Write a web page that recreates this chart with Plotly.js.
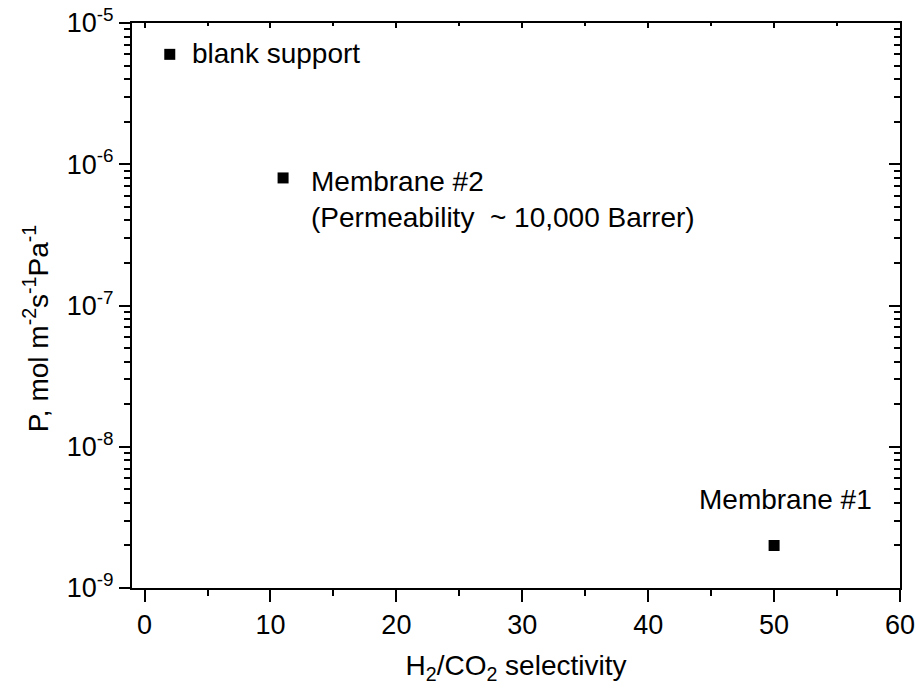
<!DOCTYPE html>
<html><head><meta charset="utf-8">
<script src="https://cdn.plot.ly/plotly-3.0.1.min.js"></script>
<style>html,body{margin:0;padding:0;background:#fff}#c{width:919px;height:690px}</style>
</head><body><div id="c"></div>
<script>
const labels = ["blank support", "Membrane #2<br>(Permeability  ~ 10,000 Barrer)", "Membrane #1"];
const selectivity = [2, 11, 50];
const permeance = [6e-6, 8e-7, 2e-9];
const xTicks = [0, 10, 20, 30, 40, 50, 60];
const yTickExp = [-9, -8, -7, -6, -5];
const yTitle = "P, mol m<sup>-2</sup>s<sup>-1</sup>Pa<sup>-1</sup>";
const xTitle = "H<sub>2</sub>/CO<sub>2</sub> selectivity";

const yTickVals = yTickExp.map(e => Math.pow(10, e));
const yTickText = yTickExp.map(e => "10<sup>" + e + "</sup>");
const yMinor = [];
yTickExp.slice(0, -1).forEach(e => { for (let d = 2; d <= 9; d++) yMinor.push(d * Math.pow(10, e)); });
const xMinor = [5, 15, 25, 35, 45, 55];

const font = {family: "Liberation Sans, Arial, sans-serif", color: "#000"};
const FA = 28, FT = 27, FTI = 28;
const trace = {
  x: selectivity, y: permeance, mode: "markers", type: "scatter",
  marker: {symbol: "square", size: 11, color: "#000"}, hoverinfo: "none", showlegend: false
};
const ghost = {x: [0], y: [1e-7], xaxis: "x2", yaxis: "y2", mode: "markers",
  marker: {opacity: 0}, showlegend: false, hoverinfo: "none"};

const anns = [
  {x: selectivity[0], y: Math.log10(permeance[0]), text: labels[0], xanchor: "left", yanchor: "middle", xshift: 20, yshift: 1, showarrow: false, font: Object.assign({size: FA}, font)},
  {x: selectivity[1], y: Math.log10(permeance[1]), text: labels[1], xanchor: "left", yanchor: "top", xshift: 26, yshift: 14, align: "left", showarrow: false, font: Object.assign({size: FA}, font)},
  {x: selectivity[2], y: Math.log10(permeance[2]), text: labels[2], xanchor: "center", yanchor: "bottom", xshift: 11, yshift: 28, showarrow: false, font: Object.assign({size: FA}, font)},
  {xref: "paper", yref: "paper", x: 0, y: 0.458, xanchor: "center", yanchor: "middle", xshift: -96, textangle: -90, text: yTitle, showarrow: false, font: Object.assign({size: FTI}, font)}
];

const layout = {
  width: 919, height: 690,
  margin: {l: 131.5, r: 19, t: 23, b: 102},
  paper_bgcolor: "#fff", plot_bgcolor: "#fff",
  font: font,
  xaxis: {
    range: [-1, 60], tickvals: xTicks, ticktext: xTicks.map(String),
    ticks: "outside", ticklen: 12, tickwidth: 2, tickcolor: "#000",
    showline: true, linewidth: 2, linecolor: "#000", showgrid: false, zeroline: false,
    tickfont: Object.assign({size: FT}, font),
    minor: {tickvals: xMinor, ticks: "outside", ticklen: 6, tickwidth: 2, tickcolor: "#000", showgrid: false},
    title: {text: xTitle, font: Object.assign({size: FTI}, font), standoff: 16}
  },
  yaxis: {
    type: "log", range: [-9, -5], tickvals: yTickVals, ticktext: yTickText,
    ticks: "outside", ticklen: 11, tickwidth: 2, tickcolor: "#000",
    showline: true, linewidth: 2, linecolor: "#000", showgrid: false, zeroline: false,
    tickfont: Object.assign({size: FT}, font),
    minor: {tickvals: yMinor, ticks: "outside", ticklen: 6, tickwidth: 2, tickcolor: "#000", showgrid: false}
  },
  xaxis2: {
    overlaying: "x", side: "top", range: [-1, 60], tickvals: xTicks, showticklabels: false,
    ticks: "inside", ticklen: 5, tickwidth: 2, tickcolor: "#000",
    showline: true, linewidth: 2, linecolor: "#000", showgrid: false, zeroline: false,
    minor: {tickvals: xMinor, ticks: "inside", ticklen: 3, tickwidth: 2, tickcolor: "#000", showgrid: false}
  },
  yaxis2: {
    overlaying: "y", side: "right", type: "log", range: [-9, -5], tickvals: yTickVals, showticklabels: false,
    ticks: "inside", ticklen: 11, tickwidth: 2, tickcolor: "#000",
    showline: true, linewidth: 2, linecolor: "#000", showgrid: false, zeroline: false,
    minor: {tickvals: yMinor, ticks: "inside", ticklen: 6, tickwidth: 2, tickcolor: "#000", showgrid: false}
  },
  annotations: anns
};
Plotly.newPlot("c", [trace, ghost], layout, {displayModeBar: false, staticPlot: true});
</script></body></html>
